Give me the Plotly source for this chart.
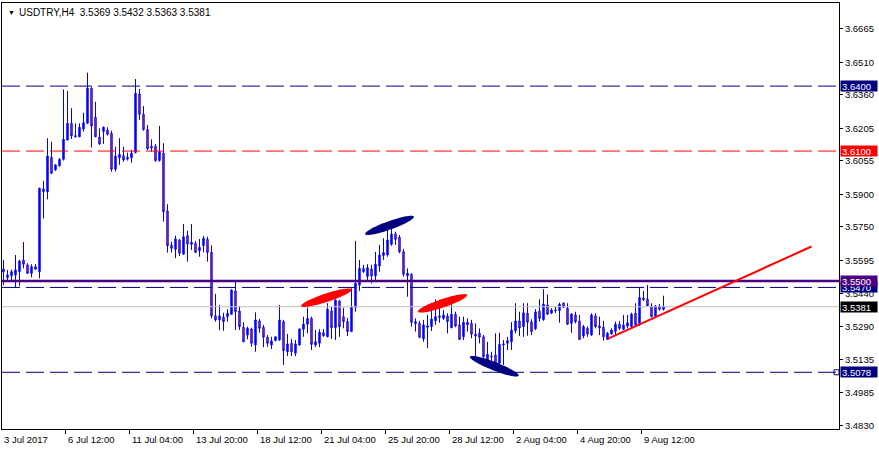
import math
import plotly.graph_objects as go

# ---------------- data ----------------
opens = [3.5555, 3.5515, 3.5524, 3.5528, 3.5543, 3.5597, 3.5574, 3.5535, 3.5566, 3.5543,
         3.5925, 3.5912, 3.6071, 3.6013, 3.6032, 3.6062, 3.6151, 3.6228, 3.6171, 3.6166,
         3.6202, 3.6228, 3.6390, 3.6256, 3.6164, 3.6190, 3.6197, 3.6182, 3.6016, 3.6069,
         3.6079, 3.6063, 3.6069, 3.6093, 3.6364, 3.6270, 3.6200, 3.6122, 3.6122, 3.6056,
         3.6090, 3.5823, 3.5665, 3.5646, 3.5689, 3.5623, 3.5709, 3.5669, 3.5674, 3.5640,
         3.5663, 3.5692, 3.5632, 3.5339, 3.5320, 3.5332, 3.5335, 3.5346, 3.5454, 3.5361,
         3.5286, 3.5250, 3.5278, 3.5204, 3.5315, 3.5286, 3.5240, 3.5204, 3.5224, 3.5227,
         3.5312, 3.5173, 3.5212, 3.5166, 3.5204, 3.5277, 3.5300, 3.5327, 3.5204, 3.5212,
         3.5261, 3.5242, 3.5361, 3.5284, 3.5407, 3.5335, 3.5312, 3.5266, 3.5378, 3.5481,
         3.5558, 3.5520, 3.5555, 3.5523, 3.5569, 3.5617, 3.5620, 3.5669, 3.5717, 3.5702,
         3.5635, 3.5524, 3.5531, 3.5303, 3.5304, 3.5232, 3.5286, 3.5289, 3.5316, 3.5332,
         3.5327, 3.5338, 3.5284, 3.5346, 3.5297, 3.5242, 3.5298, 3.5304, 3.5254, 3.5258,
         3.5242, 3.5127, 3.5153, 3.5158, 3.5120, 3.5204, 3.5212, 3.5219, 3.5270, 3.5315,
         3.5289, 3.5351, 3.5310, 3.5279, 3.5360, 3.5321, 3.5389, 3.5351, 3.5366, 3.5363,
         3.5397, 3.5374, 3.5304, 3.5343, 3.5315, 3.5246, 3.5281, 3.5250, 3.5338, 3.5292,
         3.5286, 3.5230, 3.5255, 3.5266, 3.5300, 3.5277, 3.5292, 3.5289, 3.5351, 3.5297,
         3.5421, 3.5415, 3.5384, 3.5335, 3.5384, 3.5369]
highs = [3.5597, 3.5551, 3.5552, 3.5620, 3.5597, 3.5680, 3.5582, 3.5577, 3.5578, 3.5931,
         3.5962, 3.6159, 3.6143, 3.6039, 3.6067, 3.6385, 3.6378, 3.6298, 3.6228, 3.6228,
         3.6277, 3.6462, 3.6395, 3.6328, 3.6205, 3.6213, 3.6210, 3.6194, 3.6120, 3.6159,
         3.6120, 3.6093, 3.6105, 3.6433, 3.6387, 3.6308, 3.6221, 3.6154, 3.6133, 3.6216,
         3.6136, 3.5854, 3.5681, 3.5709, 3.5694, 3.5763, 3.5732, 3.5763, 3.5685, 3.5694,
         3.5708, 3.5704, 3.5665, 3.5440, 3.5389, 3.5353, 3.5369, 3.5461, 3.5501, 3.5384,
         3.5310, 3.5289, 3.5284, 3.5355, 3.5324, 3.5297, 3.5250, 3.5242, 3.5244, 3.5389,
         3.5320, 3.5255, 3.5232, 3.5227, 3.5281, 3.5335, 3.5378, 3.5335, 3.5273, 3.5277,
         3.5278, 3.5397, 3.5381, 3.5415, 3.5412, 3.5376, 3.5329, 3.5466, 3.5685, 3.5597,
         3.5574, 3.5577, 3.5574, 3.5635, 3.5666, 3.5697, 3.5751, 3.5759, 3.5728, 3.5712,
         3.5648, 3.5558, 3.5535, 3.5327, 3.5316, 3.5320, 3.5343, 3.5381, 3.5415, 3.5389,
         3.5366, 3.5351, 3.5392, 3.5358, 3.5335, 3.5335, 3.5327, 3.5320, 3.5304, 3.5281,
         3.5250, 3.5219, 3.5173, 3.5258, 3.5261, 3.5227, 3.5242, 3.5310, 3.5397, 3.5358,
         3.5397, 3.5397, 3.5323, 3.5370, 3.5415, 3.5462, 3.5438, 3.5374, 3.5380, 3.5400,
         3.5401, 3.5397, 3.5351, 3.5358, 3.5343, 3.5297, 3.5289, 3.5351, 3.5351, 3.5335,
         3.5316, 3.5264, 3.5281, 3.5312, 3.5315, 3.5343, 3.5343, 3.5353, 3.5397, 3.5469,
         3.5454, 3.5481, 3.5397, 3.5389, 3.5394, 3.5432]
lows = [3.5481, 3.5501, 3.5501, 3.5467, 3.5477, 3.5558, 3.5532, 3.5517, 3.5551, 3.5512,
        3.5789, 3.5877, 3.5994, 3.6009, 3.6028, 3.6056, 3.6148, 3.6156, 3.6164, 3.6164,
        3.6190, 3.6225, 3.6116, 3.6164, 3.6128, 3.6133, 3.6171, 3.6005, 3.6005, 3.6036,
        3.6051, 3.6056, 3.6046, 3.6090, 3.6244, 3.6194, 3.6105, 3.6097, 3.6051, 3.6051,
        3.5774, 3.5631, 3.5631, 3.5605, 3.5615, 3.5620, 3.5589, 3.5643, 3.5631, 3.5612,
        3.5632, 3.5589, 3.5327, 3.5312, 3.5273, 3.5270, 3.5312, 3.5343, 3.5273, 3.5273,
        3.5217, 3.5230, 3.5196, 3.5173, 3.5261, 3.5194, 3.5196, 3.5186, 3.5223, 3.5223,
        3.5112, 3.5153, 3.5153, 3.5153, 3.5201, 3.5242, 3.5258, 3.5181, 3.5194, 3.5194,
        3.5242, 3.5240, 3.5232, 3.5227, 3.5242, 3.5281, 3.5246, 3.5264, 3.5358, 3.5454,
        3.5537, 3.5497, 3.5489, 3.5504, 3.5543, 3.5597, 3.5612, 3.5663, 3.5666, 3.5628,
        3.5520, 3.5427, 3.5289, 3.5266, 3.5235, 3.5219, 3.5189, 3.5269, 3.5297, 3.5307,
        3.5320, 3.5258, 3.5281, 3.5286, 3.5227, 3.5227, 3.5266, 3.5235, 3.5150, 3.5212,
        3.5127, 3.5120, 3.5120, 3.5104, 3.5104, 3.5112, 3.5181, 3.5181, 3.5258, 3.5246,
        3.5242, 3.5247, 3.5250, 3.5273, 3.5312, 3.5316, 3.5343, 3.5347, 3.5352, 3.5307,
        3.5375, 3.5297, 3.5261, 3.5304, 3.5227, 3.5235, 3.5242, 3.5246, 3.5281, 3.5250,
        3.5224, 3.5229, 3.5253, 3.5250, 3.5273, 3.5273, 3.5281, 3.5281, 3.5293, 3.5293,
        3.5407, 3.5381, 3.5332, 3.5332, 3.5363, 3.5363]
closes = [3.5541, 3.5528, 3.5543, 3.5551, 3.5592, 3.5577, 3.5535, 3.5566, 3.5554, 3.5928,
          3.5912, 3.6077, 3.5997, 3.6036, 3.6062, 3.6154, 3.6228, 3.6171, 3.6166, 3.6210,
          3.6231, 3.6390, 3.6216, 3.6166, 3.6133, 3.6210, 3.6178, 3.6016, 3.6077, 3.6085,
          3.6059, 3.6071, 3.6090, 3.6367, 3.6270, 3.6200, 3.6111, 3.6114, 3.6056, 3.6097,
          3.5820, 3.5663, 3.5651, 3.5694, 3.5628, 3.5704, 3.5671, 3.5679, 3.5632, 3.5655,
          3.5697, 3.5632, 3.5339, 3.5320, 3.5338, 3.5312, 3.5350, 3.5458, 3.5358, 3.5289,
          3.5219, 3.5281, 3.5212, 3.5320, 3.5281, 3.5240, 3.5212, 3.5223, 3.5242, 3.5320,
          3.5178, 3.5209, 3.5173, 3.5209, 3.5278, 3.5301, 3.5327, 3.5207, 3.5219, 3.5263,
          3.5247, 3.5369, 3.5284, 3.5412, 3.5289, 3.5312, 3.5266, 3.5378, 3.5489, 3.5558,
          3.5543, 3.5561, 3.5523, 3.5577, 3.5620, 3.5631, 3.5689, 3.5717, 3.5692, 3.5635,
          3.5531, 3.5535, 3.5309, 3.5312, 3.5240, 3.5297, 3.5292, 3.5324, 3.5335, 3.5338,
          3.5343, 3.5312, 3.5346, 3.5292, 3.5230, 3.5309, 3.5309, 3.5254, 3.5246, 3.5240,
          3.5150, 3.5161, 3.5150, 3.5120, 3.5207, 3.5209, 3.5224, 3.5273, 3.5315, 3.5283,
          3.5353, 3.5309, 3.5266, 3.5357, 3.5327, 3.5393, 3.5346, 3.5366, 3.5363, 3.5392,
          3.5378, 3.5300, 3.5347, 3.5312, 3.5230, 3.5289, 3.5255, 3.5343, 3.5289, 3.5284,
          3.5242, 3.5258, 3.5273, 3.5300, 3.5281, 3.5297, 3.5307, 3.5347, 3.5297, 3.5423,
          3.5414, 3.5386, 3.5335, 3.5384, 3.5369, 3.5381]

bar_index = list(range(len(opens)))

time_tick_bars = [0, 16, 32, 48, 64, 80, 96, 112, 128, 144, 160]
time_tick_labels = ["3 Jul 2017", "6 Jul 12:00", "11 Jul 04:00", "13 Jul 20:00",
                    "18 Jul 12:00", "21 Jul 04:00", "25 Jul 20:00", "28 Jul 12:00",
                    "2 Aug 04:00", "4 Aug 20:00", "9 Aug 12:00"]

price_ticks = [3.6665, 3.6510, 3.6360, 3.6205, 3.6055, 3.5900, 3.5750,
               3.5595, 3.5440, 3.5290, 3.5135, 3.4985, 3.4830]

# horizontal levels (price, colour, dashed?, width)
level_prices = [3.6400, 3.6100, 3.5470, 3.5500, 3.5078]
level_colors = ["#000080", "#FF0000", "#000080", "#4B0082", "#000080"]
level_dashed = [True, True, True, False, True]
level_widths = [1, 1, 1, 2.5, 1]
bid_price = 3.5381

# trend line (bar index, price)
trend_bars = [151, 202]
trend_prices = [3.5232, 3.5659]

# ellipses: end points (bar, price) and colour
ell_bar1 = [74.4, 90.4, 103.6, 116.6]
ell_pr1 = [3.5384, 3.5716, 3.5358, 3.5150]
ell_bar2 = [87.1, 102.6, 115.9, 128.8]
ell_pr2 = [3.5461, 3.5797, 3.5435, 3.5062]
ell_colors = ["#FF0000", "#000080", "#FF0000", "#000080"]

header = "USDTRY,H4  3.5369 3.5432 3.5363 3.5381"

# ---------------- layout geometry ----------------
W, H = 879, 450
ML, MR, MT, MB = 2, 40, 3, 21
x_range = [-0.375, 208.875]
y_range = [3.4816, 3.6784]
plot_w = W - ML - MR
plot_h = H - MT - MB
px_per_bar = plot_w / (x_range[1] - x_range[0])
px_per_price = plot_h / (y_range[1] - y_range[0])

FONT = "Liberation Sans, Arial, sans-serif"
FS = 9.5

fig = go.Figure()

fig.add_trace(go.Candlestick(
    x=bar_index, open=opens, high=highs, low=lows, close=closes,
    increasing=dict(line=dict(color="#0000FF", width=1), fillcolor="#0000FF"),
    decreasing=dict(line=dict(color="#0000FF", width=1), fillcolor="#FF4500"),
    whiskerwidth=0, hoverinfo="skip", showlegend=False,
))

shapes = []
# bid line
shapes.append(dict(type="line", xref="paper", x0=0, x1=1, yref="y", y0=bid_price, y1=bid_price,
                   line=dict(color="#C0C0C0", width=1), layer="above"))
for p, c, d, w in zip(level_prices, level_colors, level_dashed, level_widths):
    shapes.append(dict(type="line", xref="paper", x0=0, x1=1, yref="y", y0=p, y1=p,
                       line=dict(color=c, width=w, dash="18px,6px" if d else "solid"),
                       layer="above"))

# trend line
shapes.append(dict(type="line", xref="x", yref="y", x0=trend_bars[0], y0=trend_prices[0],
                   x1=trend_bars[1], y1=trend_prices[1],
                   line=dict(color="#FF0000", width=2), layer="above"))


def ellipse_path(b1, p1, b2, p2, half_px=4.2, n=60):
    x1, y1 = b1 * px_per_bar, -p1 * px_per_price
    x2, y2 = b2 * px_per_bar, -p2 * px_per_price
    cx, cy = (x1 + x2) / 2, (y1 + y2) / 2
    dx, dy = x2 - x1, y2 - y1
    a = math.hypot(dx, dy) / 2
    ux, uy = dx / (2 * a), dy / (2 * a)
    vx, vy = -uy, ux
    pts = []
    for k in range(n):
        t = 2 * math.pi * k / n
        px = cx + a * math.cos(t) * ux + half_px * math.sin(t) * vx
        py = cy + a * math.cos(t) * uy + half_px * math.sin(t) * vy
        pts.append((px / px_per_bar, -py / px_per_price))
    return "M " + " L ".join(f"{bx:.4f},{pp:.6f}" for bx, pp in pts) + " Z"


for b1, p1, b2, p2, c in zip(ell_bar1, ell_pr1, ell_bar2, ell_pr2, ell_colors):
    shapes.append(dict(type="path", xref="x", yref="y", path=ellipse_path(b1, p1, b2, p2),
                       fillcolor=c, line=dict(width=0), layer="above"))

# selection square at the end of the 3.5078 line
fig.add_trace(go.Scatter(
    x=[x_range[1] - 2.5 / px_per_bar], y=[level_prices[4]], mode="markers",
    marker=dict(symbol="square", size=5, color="white", line=dict(color="#000080", width=1)),
    hoverinfo="skip", showlegend=False, cliponaxis=False,
))

annotations = []
# header
annotations.append(dict(xref="paper", yref="paper", x=0, y=1, xanchor="left", yanchor="top",
                        xshift=4, yshift=-4, text="▼", showarrow=False,
                        font=dict(family=FONT, size=7, color="black")))
annotations.append(dict(xref="paper", yref="paper", x=0, y=1, xanchor="left", yanchor="top",
                        xshift=15, yshift=-2, text=header, showarrow=False,
                        font=dict(family=FONT, size=10, color="black")))
# time labels
for b, t in zip(time_tick_bars, time_tick_labels):
    annotations.append(dict(xref="x", yref="paper", x=b, y=0, xanchor="left", yanchor="top",
                            xshift=-2, yshift=-3, text=t, showarrow=False,
                            font=dict(family=FONT, size=FS, color="black")))
# price labels on the right scale
label_bg = {3.6400: "#000080", 3.6100: "#FF0000", 3.5470: "#000080", 3.5500: "#4B0082",
            3.5078: "#000080"}
for p in [3.6400, 3.6100, 3.5470, 3.5500, 3.5078]:
    annotations.append(dict(xref="paper", yref="y", x=1, y=p, xanchor="left", yanchor="middle",
                            xshift=1, text=f"{p:.4f}", showarrow=False, bgcolor=label_bg[p],
                            borderpad=1, width=34, height=8, align="left",
                            font=dict(family=FONT, size=FS, color="white")))
annotations.append(dict(xref="paper", yref="y", x=1, y=bid_price, xanchor="left",
                        yanchor="middle", xshift=1, text=f"{bid_price:.4f}", showarrow=False,
                        bgcolor="#000000", borderpad=1, width=34, height=8, align="left",
                        font=dict(family=FONT, size=FS, color="white")))

fig.update_layout(
    width=W, height=H,
    margin=dict(l=ML, r=MR, t=MT, b=MB, pad=0, autoexpand=False),
    paper_bgcolor="white", plot_bgcolor="white",
    boxgap=0.5,
    showlegend=False,
    shapes=shapes,
    annotations=annotations,
    xaxis=dict(range=x_range, rangeslider=dict(visible=False), showgrid=False, zeroline=False,
               showline=True, linecolor="black", linewidth=1, mirror=True,
               tickmode="array", tickvals=[b - 0.45 for b in time_tick_bars],
               ticks="outside", ticklen=4, tickcolor="black", showticklabels=False),
    yaxis=dict(range=y_range, side="right", showgrid=False, zeroline=False,
               showline=True, linecolor="black", linewidth=1, mirror=True,
               tickmode="array", tickvals=price_ticks,
               ticktext=[f"{v:.4f}" for v in price_ticks],
               ticks="outside", ticklen=3, tickcolor="black",
               tickfont=dict(family=FONT, size=FS, color="black")),
    hovermode=False,
)

fig.write_html("out.html", config={"displayModeBar": False},
               post_script="document.body.style.margin='0px';")
